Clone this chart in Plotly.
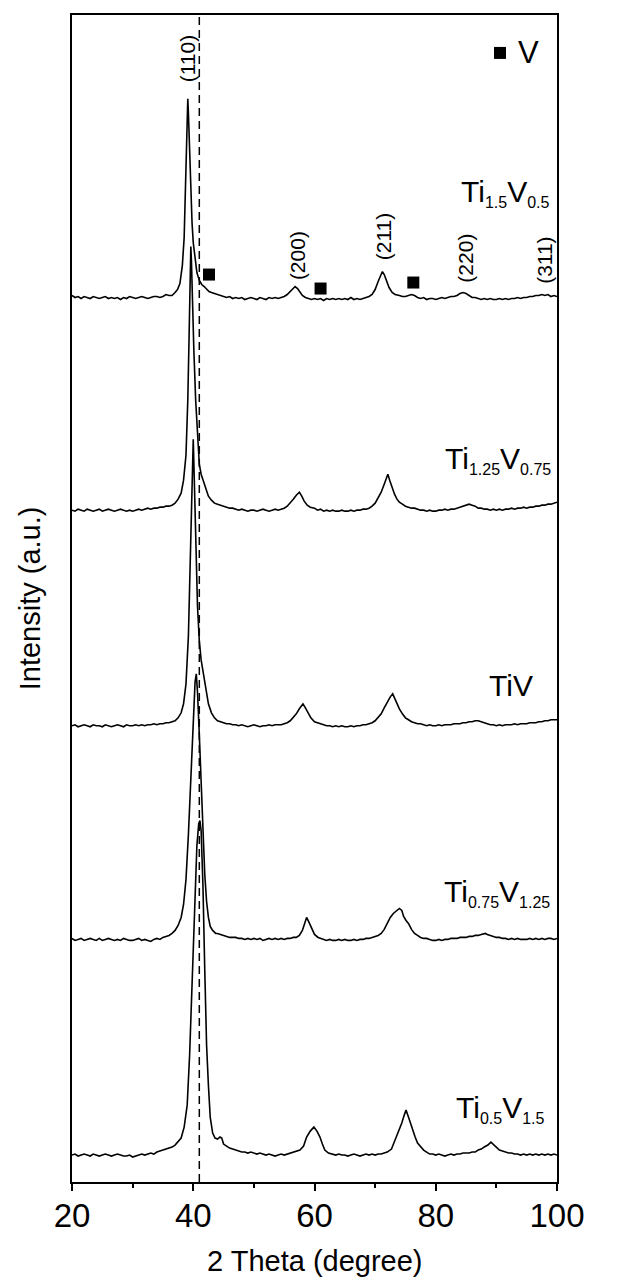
import plotly.graph_objects as go

# ---- data (2 Theta in degree, intensity in a.u. relative to each pattern's baseline) ----
x_t1 = [20.0,20.5,21.0,21.5,22.0,22.5,23.0,23.5,24.0,24.5,25.0,25.5,26.0,26.5,27.0,27.5,28.0,28.5,29.0,29.5,
        30.0,30.5,31.0,31.5,32.0,32.5,33.0,33.5,34.0,34.5,35.0,35.5,36.0,36.5,37.0,37.4,37.8,38.2,38.5,38.8,
        39.0,39.1,39.2,39.4,39.6,39.8,40.0,40.3,40.6,41.0,41.4,41.8,42.2,42.6,43.0,43.5,44.0,44.5,45.0,45.5,
        46.0,46.5,47.0,47.5,48.0,48.5,49.0,49.5,50.0,50.5,51.0,51.5,52.0,52.5,53.0,53.5,54.0,54.5,55.0,55.5,
        56.0,56.5,56.8,57.2,57.6,58.0,58.5,59.0,59.5,60.0,60.5,61.0,61.5,62.0,62.5,63.0,63.5,64.0,64.5,65.0,
        65.5,66.0,66.5,67.0,67.5,68.0,68.5,69.0,69.5,70.0,70.5,70.9,71.2,71.5,71.9,72.3,72.8,73.3,74.0,74.5,
        75.0,75.5,76.0,76.5,77.0,77.5,78.0,78.5,79.0,79.5,80.0,80.5,81.0,81.5,82.0,82.5,83.0,83.5,84.0,84.5,
        85.0,85.5,86.0,86.5,87.0,87.5,88.0,88.5,89.0,89.5,90.0,90.5,91.0,91.5,92.0,92.5,93.0,93.5,94.0,94.5,
        95.0,95.5,96.0,96.5,97.0,97.5,98.0,98.5,99.0,99.5,100.0]
i_t1 = [2,0,1,-1,1,0,-1,1,0,-1,0,1,-1,0,-1,0,-2,0,-1,1,
        0,-1,0,1,0,-1,0,1,1,0,1,3,2,2,5,8,14,32,60,118,
        175,199,185,140,100,75,55,38,25,17,13,11,8,6,5,4,3,2,1,0,
        1,-1,0,-1,0,-2,-1,0,-1,-2,0,-1,-2,0,-1,0,-1,0,1,3,
        6,10,11,9,5,2,0,-1,-2,-1,-2,-1,-3,-1,-2,-1,-2,-1,-2,-1,
        -2,0,-2,-1,-2,-1,0,1,3,8,16,23,26,23,16,10,5,3,2,1,
        1,2,3,2,0,-1,0,-2,-1,-1,-2,-1,0,-1,0,1,1,2,4,5,
        4,2,0,0,-1,-2,-1,-2,-1,-2,-2,-1,-2,-1,-2,-1,-1,0,-1,0,
        0,1,1,2,2,3,2,3,1,2,1]

x_t2 = [20.0,20.5,21.0,21.5,22.0,22.5,23.0,23.5,24.0,24.5,25.0,25.5,26.0,26.5,27.0,27.5,28.0,28.5,29.0,29.5,
        30.0,30.5,31.0,31.5,32.0,32.5,33.0,33.5,34.0,34.5,35.0,35.5,36.0,36.5,37.0,37.5,38.0,38.4,38.8,39.1,
        39.3,39.5,39.6,39.7,39.9,40.1,40.4,40.7,41.0,41.3,41.6,42.0,42.5,43.0,43.5,44.0,44.5,45.0,45.5,46.0,
        46.5,47.0,47.5,48.0,48.5,49.0,49.5,50.0,50.5,51.0,51.5,52.0,52.5,53.0,53.5,54.0,54.5,55.0,55.5,56.0,
        56.5,57.0,57.5,57.9,58.3,58.8,59.3,60.0,60.5,61.0,61.5,62.0,62.5,63.0,63.5,64.0,64.5,65.0,65.5,66.0,
        66.5,67.0,67.5,68.0,68.5,69.0,69.5,70.0,70.5,71.0,71.5,71.9,72.1,72.4,72.8,73.2,73.6,74.0,74.5,75.0,
        75.5,76.0,76.5,77.0,77.5,78.0,78.5,79.0,79.5,80.0,80.5,81.0,81.5,82.0,82.5,83.0,83.5,84.0,84.5,85.0,
        85.5,86.0,86.5,87.0,87.5,88.0,88.5,89.0,89.5,90.0,90.5,91.0,91.5,92.0,92.5,93.0,93.5,94.0,94.5,95.0,
        95.5,96.0,96.5,97.0,97.5,98.0,98.5,99.0,99.5,100.0]
i_t2 = [0,-1,1,0,-1,1,0,-1,0,1,-1,0,1,0,-1,0,1,0,-1,0,
        -1,0,1,0,1,2,1,2,2,3,3,4,4,5,7,11,17,30,55,110,
        170,240,264,250,200,160,110,72,46,36,30,22,14,10,7,6,5,4,3,2,
        2,1,0,1,0,-1,0,0,-1,0,1,0,-1,0,1,0,1,2,4,7,
        11,15,18,14,9,5,3,2,0,1,-1,0,-1,0,-1,-1,0,-1,-1,0,
        -1,0,0,1,1,2,4,7,12,18,26,33,36,30,22,16,11,8,6,4,
        3,2,2,1,0,0,-1,0,-1,-1,0,0,1,0,1,1,2,3,4,5,
        6,5,4,2,2,1,1,0,1,0,1,0,1,1,2,1,2,2,3,2,
        3,3,4,4,5,5,6,6,7,8]

x_t3 = [20.0,20.5,21.0,21.5,22.0,22.5,23.0,23.5,24.0,24.5,25.0,25.5,26.0,26.5,27.0,27.5,28.0,28.5,29.0,29.5,
        30.0,30.5,31.0,31.5,32.0,32.5,33.0,33.5,34.0,34.5,35.0,35.5,36.0,36.5,37.0,37.5,38.0,38.4,38.8,39.2,
        39.5,39.8,40.0,40.2,40.4,40.7,41.0,41.3,41.6,42.0,42.5,43.0,43.5,44.0,44.5,45.0,45.5,46.0,46.5,47.0,
        47.5,48.0,48.5,49.0,49.5,50.0,50.5,51.0,51.5,52.0,52.5,53.0,53.5,54.0,54.5,55.0,55.5,56.0,56.5,57.0,
        57.5,57.8,58.1,58.5,58.9,59.4,60.0,60.5,61.0,61.5,62.0,62.5,63.0,63.5,64.0,64.5,65.0,65.5,66.0,66.5,
        67.0,67.5,68.0,68.5,69.0,69.5,70.0,70.5,71.0,71.5,72.0,72.5,72.9,73.2,73.6,74.0,74.5,75.0,75.5,76.0,
        76.5,77.0,77.5,78.0,78.5,79.0,79.5,80.0,80.5,81.0,81.5,82.0,82.5,83.0,83.5,84.0,84.5,85.0,85.5,86.0,
        86.5,87.0,87.5,88.0,88.5,89.0,89.5,90.0,90.5,91.0,91.5,92.0,92.5,93.0,93.5,94.0,94.5,95.0,95.5,96.0,
        96.5,97.0,97.5,98.0,98.5,99.0,99.5,100.0]
i_t3 = [0,1,-1,0,1,0,-1,1,0,0,-1,1,0,-1,0,1,0,-1,1,0,
        0,1,0,1,0,1,1,2,1,2,2,3,3,4,5,8,13,22,42,90,
        160,250,287,240,180,120,85,66,55,38,22,13,8,5,4,3,2,2,1,1,
        0,1,0,-1,0,1,0,-1,0,0,1,0,1,1,1,2,3,5,8,12,
        17,20,22,18,13,8,4,3,2,1,0,0,-1,0,-1,0,-1,-1,0,-1,
        0,0,1,1,2,3,5,8,12,18,24,29,32,28,22,17,12,8,6,4,
        3,2,2,1,0,1,0,0,1,0,1,1,1,2,2,2,3,3,4,4,
        5,5,4,3,2,1,1,0,1,0,1,1,1,2,1,2,2,2,3,3,
        3,4,4,5,5,6,6,6]

x_t4 = [20.0,20.5,21.0,21.5,22.0,22.5,23.0,23.5,24.0,24.5,25.0,25.5,26.0,26.5,27.0,27.5,28.0,28.5,29.0,29.5,
        30.0,30.5,31.0,31.5,32.0,32.5,33.0,33.5,34.0,34.5,35.0,35.5,36.0,36.5,37.0,37.5,38.0,38.4,38.8,39.2,
        39.6,40.0,40.3,40.5,40.7,41.0,41.3,41.6,41.9,42.2,42.5,42.8,43.2,43.7,44.0,44.5,45.0,45.5,46.0,46.5,
        47.0,47.5,48.0,48.5,49.0,49.5,50.0,50.5,51.0,51.5,52.0,52.5,53.0,53.5,54.0,54.5,55.0,55.5,56.0,56.5,
        57.0,57.5,58.0,58.4,58.7,59.1,59.5,60.0,60.6,61.0,61.5,62.0,62.5,63.0,63.5,64.0,64.5,65.0,65.5,66.0,
        66.5,67.0,67.5,68.0,68.5,69.0,69.5,70.0,70.5,71.0,71.5,72.0,72.5,73.0,73.5,74.0,74.4,74.7,75.1,75.5,
        76.0,76.5,77.0,77.5,78.0,78.5,79.0,79.5,80.0,80.5,81.0,81.5,82.0,82.5,83.0,83.5,84.0,84.5,85.0,85.5,
        86.0,86.5,87.0,87.5,88.2,88.5,89.0,89.5,90.0,90.5,91.0,91.5,92.0,92.5,93.0,93.5,94.0,94.5,95.0,95.5,
        96.0,96.5,97.0,97.5,98.0,98.5,99.0,99.5,100.0]
i_t4 = [1,-1,0,1,-1,0,1,0,-1,1,-1,0,1,0,-1,0,-1,1,0,-1,
        -1,0,1,-1,0,-1,-2,0,1,0,2,3,4,6,9,14,22,35,60,105,
        165,228,258,266,248,205,155,105,65,38,22,13,9,6,6,5,4,3,2,2,
        2,1,1,0,1,0,1,0,1,-1,0,1,0,1,0,1,0,1,1,2,
        2,4,9,16,22,17,12,5,2,1,0,-1,0,-1,-1,0,-1,0,-1,-1,
        0,-1,0,0,1,1,2,3,4,6,10,16,22,26,29,31,29,23,19,16,
        10,6,4,2,1,1,0,-1,-1,0,-1,0,0,1,1,1,2,2,2,3,
        3,4,4,5,6,5,4,3,2,2,1,1,0,1,0,1,0,0,0,1,
        0,1,0,1,0,1,1,0,1]

x_t5 = [20.0,20.5,21.0,21.5,22.0,22.5,23.0,23.5,24.0,24.5,25.0,25.5,26.0,26.5,27.0,27.5,28.0,28.5,29.0,29.5,
        30.0,30.5,31.0,31.5,32.0,32.5,33.0,33.5,34.0,34.5,35.0,35.5,36.0,36.5,37.0,37.5,38.0,38.5,39.0,39.4,
        39.8,40.2,40.6,40.9,41.1,41.3,41.6,41.9,42.2,42.5,42.8,43.2,43.6,44.0,44.4,44.7,45.0,45.5,46.0,46.5,
        47.0,47.5,48.0,48.5,49.0,49.5,50.0,50.5,51.0,51.5,52.0,52.5,53.0,53.5,54.0,54.5,55.0,55.5,56.0,56.5,
        57.0,57.6,58.2,58.7,59.3,59.9,60.4,60.9,61.3,61.7,62.3,63.0,63.5,64.0,64.5,65.0,65.5,66.0,66.5,67.0,
        67.5,68.0,68.5,69.0,69.5,70.0,70.5,71.0,71.5,72.0,72.7,73.3,73.9,74.4,74.8,75.1,75.5,75.8,76.2,76.6,
        77.0,77.5,78.0,78.5,79.0,79.5,80.0,80.5,81.0,81.5,82.0,82.5,83.0,83.5,84.0,84.5,85.0,85.5,86.0,86.5,
        87.0,87.5,88.0,88.6,89.1,89.6,90.0,90.5,91.0,91.5,92.0,92.5,93.0,93.5,94.0,94.5,95.0,95.5,96.0,96.5,
        97.0,97.5,98.0,98.5,99.0,99.5,100.0]
i_t5 = [0,1,-1,0,1,0,-1,1,0,-1,0,1,0,-1,0,1,0,-1,-1,0,
        -2,-1,0,1,0,1,2,1,3,4,5,6,7,8,10,13,17,28,50,100,
        175,250,310,332,335,325,270,185,110,70,38,22,17,16,18,17,11,9,7,6,
        5,4,3,3,2,3,2,1,2,1,0,1,0,-1,0,1,0,1,2,3,
        4,5,9,18,24,28,24,18,11,5,2,1,0,1,0,0,-1,0,1,0,
        -1,0,1,0,1,0,1,1,2,3,6,15,24,32,40,45,38,32,25,18,
        12,8,5,3,1,1,0,1,0,-1,0,1,0,1,1,2,2,2,3,3,
        5,6,8,10,13,10,7,5,4,3,2,2,1,1,0,1,0,1,0,1,
        0,1,0,1,0,1,0]

pattern_x = [x_t1, x_t2, x_t3, x_t4, x_t5]
pattern_i = [i_t1, i_t2, i_t3, i_t4, i_t5]
offsets = [886, 673, 457, 243, 27]          # vertical stacking offsets (a.u.)

SUB = "<sub><span style='font-size:16px'>{}</span></sub>"
names = ["Ti" + SUB.format("1.5") + "V" + SUB.format("0.5"),
         "Ti" + SUB.format("1.25") + "V" + SUB.format("0.75"),
         "TiV",
         "Ti" + SUB.format("0.75") + "V" + SUB.format("1.25"),
         "Ti" + SUB.format("0.5") + "V" + SUB.format("1.5")]
name_x = [99.2, 99.3, 96.4, 99.2, 98.4]
name_y = [991, 723, 497, 290, 73]

hkl_labels = ["(110)", "(200)", "(211)", "(220)", "(311)"]
hkl_x = [39.2, 57.2, 71.4, 85.0, 97.9]
hkl_y = [1125, 928, 947, 925, 923]

v_x = [42.6, 61.0, 76.3]
v_y = [909, 895, 901]
legend_x = [90.6]
legend_y = [1131]

ref_line_x = 41.0

FONT = "Arial, Liberation Sans, sans-serif"
fig = go.Figure()

for xs, ys, off in zip(pattern_x, pattern_i, offsets):
    fig.add_trace(go.Scatter(x=xs, y=[v + off for v in ys], mode="lines",
                             line=dict(color="black", width=1.6), showlegend=False, hoverinfo="skip"))

fig.add_trace(go.Scatter(x=v_x + legend_x, y=v_y + legend_y, mode="markers",
                         marker=dict(symbol="square", size=12, color="black"),
                         showlegend=False, hoverinfo="skip"))

fig.add_shape(type="line", x0=ref_line_x, x1=ref_line_x, y0=0, y1=1, xref="x", yref="paper",
              line=dict(color="black", width=1.5, dash="8px,5px"))

annotations = []
for t, xx, yy in zip(hkl_labels, hkl_x, hkl_y):
    annotations.append(dict(x=xx, y=yy, text=t, textangle=-90, showarrow=False,
                            font=dict(size=21, color="black", family=FONT),
                            xanchor="center", yanchor="middle"))
for nm, xx, yy in zip(names, name_x, name_y):
    annotations.append(dict(x=xx, y=yy, text=nm, showarrow=False, xanchor="right", yanchor="middle",
                            font=dict(size=30, color="black", family=FONT)))
annotations.append(dict(x=93.3, y=1131, text="V", showarrow=False, xanchor="left", yanchor="middle",
                        font=dict(size=31, color="black", family=FONT)))
annotations.append(dict(x=0.5, y=-0.068, xref="paper", yref="paper", text="2 Theta (degree)",
                        showarrow=False, xanchor="center", yanchor="middle",
                        font=dict(size=29, color="black", family=FONT)))
annotations.append(dict(x=-0.087, y=0.5, xref="paper", yref="paper", text="Intensity (a.u.)",
                        textangle=-90, showarrow=False, xanchor="center", yanchor="middle",
                        font=dict(size=29, color="black", family=FONT)))

fig.update_layout(
    width=638, height=1281,
    margin=dict(l=64, r=89, t=5, b=107),
    paper_bgcolor="white", plot_bgcolor="white",
    annotations=annotations,
    xaxis=dict(range=[20, 100], tickvals=[20, 40, 60, 80, 100], ticks="outside", ticklen=7, tickwidth=2,
               tickcolor="black", showline=True, linecolor="black", linewidth=2, mirror=True,
               showgrid=False, zeroline=False, tickfont=dict(size=33, color="black", family=FONT),
               ticklabelstandoff=-4,
               minor=dict(tickvals=[30, 50, 70, 90], ticks="outside", ticklen=4, tickwidth=2, tickcolor="black")),
    yaxis=dict(range=[0, 1169], showticklabels=False, ticks="", showline=True, linecolor="black",
               linewidth=2, mirror=True, showgrid=False, zeroline=False),
)

fig.write_html("out.html")
